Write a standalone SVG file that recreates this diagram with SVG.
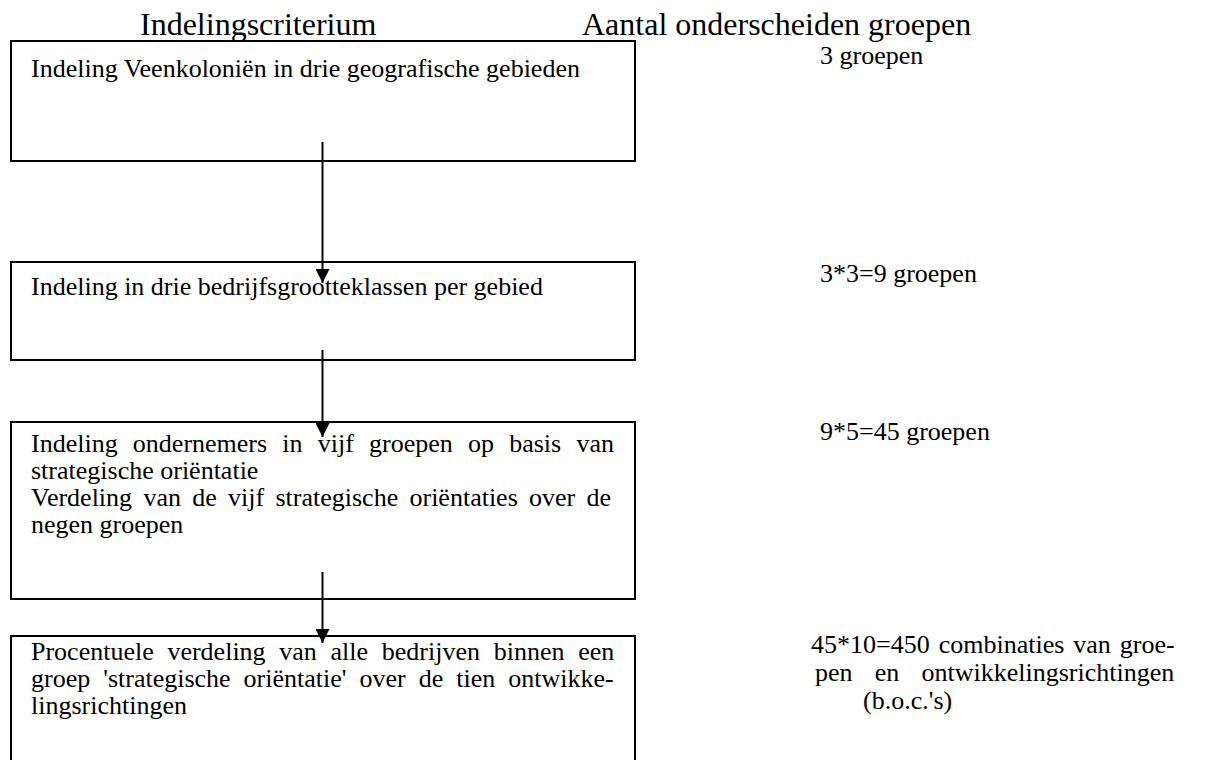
<svg xmlns="http://www.w3.org/2000/svg" width="1208" height="760" viewBox="0 0 1208 760">
  <style>
    text { font-family: "Liberation Serif", "Times New Roman", serif; fill: #000; }
    .hdr { font-size: 32px; }
    .t { font-size: 26px; }
    .box { fill: #fff; stroke: #000; stroke-width: 2; }
    .conn { stroke: #000; stroke-width: 2; fill: none; marker-end: url(#ah); }
  </style>
  <defs>
    <marker id="ah" markerUnits="userSpaceOnUse" markerWidth="16" markerHeight="14" refX="14" refY="7" orient="auto">
      <path d="M0,0 L14,7 L0,14 z" fill="#000"/>
    </marker>
  </defs>
  <rect width="1208" height="760" fill="#fff"/>

  <g id="headers">
    <text class="hdr" x="140" y="35">Indelingscriterium</text>
    <text class="hdr" x="582" y="35">Aantal onderscheiden groepen</text>
  </g>

  <g id="node1">
    <rect class="box" x="11" y="41" width="624" height="120"/>
    <text class="t" x="31" y="77">Indeling Veenkoloniën in drie geografische gebieden</text>
  </g>
  <g id="count1">
    <text class="t" x="820" y="64">3 groepen</text>
  </g>

  <g id="node2">
    <rect class="box" x="11" y="262" width="624" height="98"/>
    <text class="t" x="31" y="295">Indeling in drie bedrijfsgrootteklassen per gebied</text>
  </g>
  <g id="count2">
    <text class="t" x="820" y="282">3*3=9 groepen</text>
  </g>

  <g id="node3">
    <rect class="box" x="11" y="422" width="624" height="177"/>
    <text class="t" x="31" y="452" word-spacing="8.7">Indeling ondernemers in vijf groepen op basis van</text>
    <text class="t" x="31" y="479">strategische oriëntatie</text>
    <text class="t" x="31" y="506" word-spacing="4.8">Verdeling van de vijf strategische oriëntaties over de</text>
    <text class="t" x="31" y="533">negen groepen</text>
  </g>
  <g id="count3">
    <text class="t" x="820" y="440">9*5=45 groepen</text>
  </g>

  <g id="node4">
    <rect class="box" x="11" y="636" width="624" height="130"/>
    <text class="t" x="31" y="660" word-spacing="7.2">Procentuele verdeling van alle bedrijven binnen een</text>
    <text class="t" x="31" y="687" word-spacing="6.5">groep 'strategische oriëntatie' over de tien ontwikke-</text>
    <text class="t" x="31" y="714">lingsrichtingen</text>
  </g>
  <g id="count4">
    <text class="t" x="811" y="653" word-spacing="2.5">45*10=450 combinaties van groe-</text>
    <text class="t" x="815" y="681" word-spacing="15.7">pen en ontwikkelingsrichtingen</text>
    <text class="t" x="863" y="709">(b.o.c.'s)</text>
  </g>

  <g id="connectors">
    <line class="conn" x1="322.5" y1="142" x2="322.5" y2="283"/>
    <line class="conn" x1="322.5" y1="350" x2="322.5" y2="437"/>
    <line class="conn" x1="322.5" y1="572" x2="322.5" y2="643"/>
  </g>
</svg>
